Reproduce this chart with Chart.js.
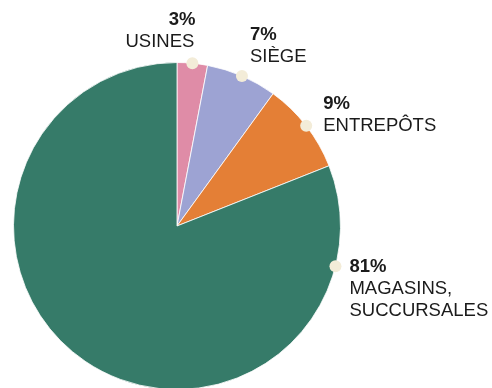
<!DOCTYPE html>
<html>
<head>
<meta charset="utf-8">
<script src="https://cdn.jsdelivr.net/npm/chart.js@4.4.0/dist/chart.umd.min.js"></script>
<style>
html,body{margin:0;padding:0;background:#fff;overflow:hidden;}
#wrap{width:492px;height:390px;position:relative;}
</style>
</head>
<body>
<div id="wrap"><canvas id="c" width="492" height="390"></canvas></div>
<script>
const categories = ["USINES", "SIÈGE", "ENTREPÔTS", "MAGASINS, SUCCURSALES"];
const labelLines = [["USINES"], ["SIÈGE"], ["ENTREPÔTS"], ["MAGASINS,", "SUCCURSALES"]];
const shares = [3, 7, 9, 81];
const colors = ["#DF8CA7", "#9DA3D3", "#E47F36", "#367B69"];

const labelPlugin = {
  id: 'sliceLabels',
  afterDatasetsDraw(chart, args, opts) {
    const ctx = chart.ctx;
    const meta = chart.getDatasetMeta(0);
    meta.data.forEach((arc, i) => {
      const p = arc.getProps(['x','y','startAngle','endAngle','outerRadius'], true);
      const f = opts.anchor[i];
      const a = p.startAngle + f * (p.endAngle - p.startAngle);
      const dx = p.x + Math.cos(a) * p.outerRadius;
      const dy = p.y + Math.sin(a) * p.outerRadius;
      ctx.save();
      ctx.beginPath();
      ctx.arc(dx, dy, 6, 0, Math.PI * 2);
      ctx.fillStyle = '#F3ECD8';
      ctx.fill();
      const o = opts.offsets[i];
      ctx.textAlign = o.align;
      ctx.textBaseline = 'middle';
      ctx.fillStyle = '#1b1b1b';
      ctx.font = 'bold 18.5px "Liberation Sans", Arial, sans-serif';
      const tx = dx + o.x;
      let ty = dy + o.y;
      ctx.fillText(shares[i] + '%', tx + (o.align === 'right' ? 1 : 0), ty);
      ctx.font = '18.5px "Liberation Sans", Arial, sans-serif';
      labelLines[i].forEach(line => {
        ty += 22;
        ctx.fillText(line, tx, ty);
      });
      ctx.restore();
    });
  }
};

new Chart(document.getElementById('c'), {
  type: 'pie',
  data: {
    labels: categories,
    datasets: [{
      data: shares,
      backgroundColor: colors,
      borderColor: 'rgba(255,255,255,0.8)',
      borderWidth: 1
    }]
  },
  options: {
    responsive: false,
    animation: false,
    layout: { padding: { left: 13, right: 151, top: 62, bottom: 0 } },
    plugins: {
      legend: { display: false },
      tooltip: { enabled: false },
      sliceLabels: {
        anchor: [0.5, 0.5, 0.5, 0.123],
        offsets: [
          { x: 2, y: -43, align: 'right' },
          { x: 8, y: -41, align: 'left' },
          { x: 17, y: -22, align: 'left' },
          { x: 14, y: 1, align: 'left' }
        ]
      }
    }
  },
  plugins: [labelPlugin]
});
</script>
</body>
</html>
